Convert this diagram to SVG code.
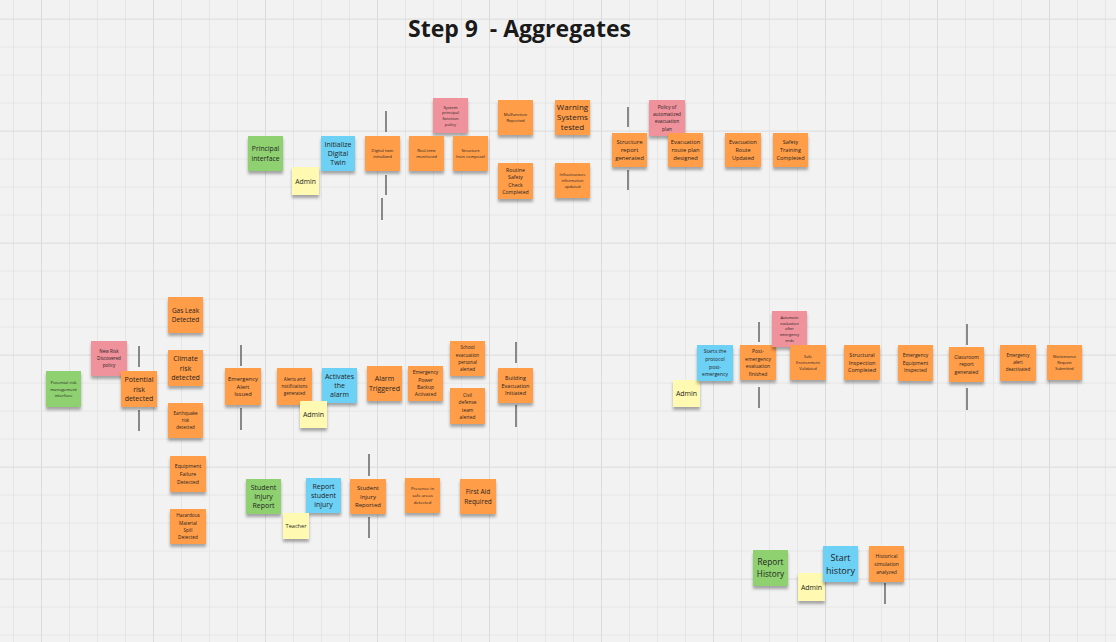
<svg xmlns="http://www.w3.org/2000/svg" width="1116" height="642" viewBox="0 0 1116 642">
<defs>
<pattern id="grid" x="41" y="18.6" width="112" height="112" patternUnits="userSpaceOnUse">
<path d="M28.5 0V112M56.5 0V112M84.5 0V112M0 28.5H112M0 56.5H112M0 84.5H112" stroke="#e6e6e6" stroke-width="1" fill="none"/>
<path d="M0.5 0V112M0 0.5H112" stroke="#dbdbdb" stroke-width="1" fill="none"/>
</pattern>
<filter id="sh" x="-20%" y="-20%" width="140%" height="150%">
<feDropShadow dx="0" dy="3" stdDeviation="1.4" flood-color="#000" flood-opacity="0.32"/>
</filter>
</defs>
<style>
.s{filter:url(#sh)}
.o{fill:#ff9d48}
.g{fill:#8fd16f}
.b{fill:#6dd0f5}
.p{fill:#f0929c}
.y{fill:#fff9b1}
.t{font-family:"Open Sans","Noto Sans","Liberation Sans",sans-serif;text-anchor:middle;fill:#1f1f1f}
.title{font-family:"Open Sans","Noto Sans","Liberation Sans",sans-serif;font-weight:700;font-size:23px;fill:#1a1a1a;white-space:pre}
.div{stroke:#666;stroke-width:1.5;fill:none}
</style>
<rect width="1116" height="642" fill="#f2f2f2"/>
<rect width="1116" height="642" fill="url(#grid)"/>
<text class="title" x="408" y="36.5" xml:space="preserve">Step 9  - Aggregates</text>

<g id="connectors">
<path class="div" d="M386 111V132M386 175V195M382 198V220"/>
<path class="div" d="M628 107V127M628 170V190"/>
<path class="div" d="M139 346V367M139 410V431"/>
<path class="div" d="M241 345V366M241 408V430"/>
<path class="div" d="M516 342V363M516 405V427"/>
<path class="div" d="M369 454V476M369 517V538"/>
<path class="div" d="M759 322V342M759 387V408"/>
<path class="div" d="M967 324V345M967 388V410"/>
<path class="div" d="M885 583V604"/>
</g>

<g id="n-principal-interface"><rect class="s g" x="248" y="136" width="35" height="35"/><text class="t" x="265.5" y="151.3" font-size="6.8"><tspan x="265.5">Principal</tspan><tspan x="265.5" dy="9.2">interface</tspan></text></g>
<g id="n-admin-1"><rect class="s y" x="292" y="167" width="27" height="28"/><text class="t" x="305.5" y="183.5" font-size="6.8">Admin</text></g>
<g id="n-initialize-digital-twin"><rect class="s b" x="321" y="136" width="34" height="35"/><text class="t" x="338" y="146.6" font-size="7"><tspan x="338">Initialize</tspan><tspan x="338" dy="9.4">Digital</tspan><tspan x="338" dy="9.4">Twin</tspan></text></g>
<g id="n-digital-twin-initialized"><rect class="s o" x="365" y="136" width="35" height="35"/><text class="t" x="382.5" y="152.2" font-size="4.2"><tspan x="382.5">Digital twin</tspan><tspan x="382.5" dy="5.7">initialized</tspan></text></g>
<g id="n-system-principal-function-policy"><rect class="s p" x="433" y="98" width="35" height="35"/><text class="t" x="450.5" y="108.5" font-size="4.2"><tspan x="450.5">System</tspan><tspan x="450.5" dy="5.7">principal</tspan><tspan x="450.5" dy="5.7">function</tspan><tspan x="450.5" dy="5.7">policy</tspan></text></g>
<g id="n-realtime-monitored"><rect class="s o" x="409" y="136" width="35" height="35"/><text class="t" x="426.5" y="152.2" font-size="4.2"><tspan x="426.5">Real-time</tspan><tspan x="426.5" dy="5.7">monitored</tspan></text></g>
<g id="n-structure-non-compose"><rect class="s o" x="453" y="136" width="35" height="35"/><text class="t" x="470.5" y="152.2" font-size="4.2"><tspan x="470.5">Structure</tspan><tspan x="470.5" dy="5.7">(non compose)</tspan></text></g>
<g id="n-malfunction-reported"><rect class="s o" x="498" y="100" width="35" height="35"/><text class="t" x="515.5" y="116.2" font-size="4.2"><tspan x="515.5">Malfunction</tspan><tspan x="515.5" dy="5.7">Reported</tspan></text></g>
<g id="n-warning-systems-tested"><rect class="s o" x="555" y="100" width="35" height="35"/><text class="t" x="572.5" y="110.4" font-size="8"><tspan x="572.5">Warning</tspan><tspan x="572.5" dy="10">Systems</tspan><tspan x="572.5" dy="10">tested</tspan></text></g>
<g id="n-routine-safety-check"><rect class="s o" x="498" y="163" width="35" height="36"/><text class="t" x="515.5" y="172.1" font-size="5.2"><tspan x="515.5">Routine</tspan><tspan x="515.5" dy="7.2">Safety</tspan><tspan x="515.5" dy="7.2">Check</tspan><tspan x="515.5" dy="7.2">Completed</tspan></text></g>
<g id="n-infrastructure-info-updated"><rect class="s o" x="555" y="163" width="35" height="35"/><text class="t" x="572.5" y="176.3" font-size="4"><tspan x="572.5">Infrastructure</tspan><tspan x="572.5" dy="5.6">information</tspan><tspan x="572.5" dy="5.6">updated</tspan></text></g>
<g id="n-structure-report-generated"><rect class="s o" x="612" y="133" width="35" height="34"/><text class="t" x="629.5" y="144" font-size="6"><tspan x="629.5">Structure</tspan><tspan x="629.5" dy="8.2">report</tspan><tspan x="629.5" dy="8.2">generated</tspan></text></g>
<g id="n-policy-evacuation-plan"><rect class="s p" x="649" y="100" width="36" height="36"/><text class="t" x="667" y="108.9" font-size="4.8"><tspan x="667">Policy of</tspan><tspan x="667" dy="7.2">automatized</tspan><tspan x="667" dy="7.2">evacuation</tspan><tspan x="667" dy="7.2">plan</tspan></text></g>
<g id="n-evacuation-route-plan-designed"><rect class="s o" x="668" y="133" width="35" height="34"/><text class="t" x="685.5" y="144.1" font-size="5.8"><tspan x="685.5">Evacuation</tspan><tspan x="685.5" dy="8">route plan</tspan><tspan x="685.5" dy="8">designed</tspan></text></g>
<g id="n-evacuation-route-updated"><rect class="s o" x="725" y="133" width="36" height="34"/><text class="t" x="743" y="144" font-size="5.5"><tspan x="743">Evacuation</tspan><tspan x="743" dy="8">Route</tspan><tspan x="743" dy="8">Updated</tspan></text></g>
<g id="n-safety-training-completed"><rect class="s o" x="773" y="133" width="35" height="34"/><text class="t" x="790.5" y="144" font-size="5.5"><tspan x="790.5">Safety</tspan><tspan x="790.5" dy="8">Training</tspan><tspan x="790.5" dy="8">Completed</tspan></text></g>

<g id="n-potential-risk-management-interface"><rect class="s g" x="46" y="371" width="35" height="36"/><text class="t" x="63.5" y="383.9" font-size="4.3"><tspan x="63.5">Potential risk</tspan><tspan x="63.5" dy="6.7">management</tspan><tspan x="63.5" dy="6.7">interface</tspan></text></g>
<g id="n-new-risk-discovered-policy"><rect class="s p" x="91" y="341" width="36" height="35"/><text class="t" x="109" y="352.9" font-size="4.6"><tspan x="109">New Risk</tspan><tspan x="109" dy="7.2">Discovered</tspan><tspan x="109" dy="7.2">policy</tspan></text></g>
<g id="n-potential-risk-detected"><rect class="s o" x="121" y="371" width="36" height="36"/><text class="t" x="139" y="382.3" font-size="7"><tspan x="139">Potential</tspan><tspan x="139" dy="9.2">risk</tspan><tspan x="139" dy="9.2">detected</tspan></text></g>
<g id="n-gas-leak-detected"><rect class="s o" x="168" y="297" width="35" height="36"/><text class="t" x="185.5" y="312.7" font-size="6.5"><tspan x="185.5">Gas Leak</tspan><tspan x="185.5" dy="9.3">Detected</tspan></text></g>
<g id="n-climate-risk-detected"><rect class="s o" x="168" y="350" width="35" height="36"/><text class="t" x="185.5" y="361.3" font-size="7"><tspan x="185.5">Climate</tspan><tspan x="185.5" dy="9.2">risk</tspan><tspan x="185.5" dy="9.2">detected</tspan></text></g>
<g id="n-earthquake-risk-detected"><rect class="s o" x="168" y="403" width="35" height="35"/><text class="t" x="185.5" y="414.8" font-size="4.5"><tspan x="185.5">Earthquake</tspan><tspan x="185.5" dy="7.3">risk</tspan><tspan x="185.5" dy="7.3">detected</tspan></text></g>
<g id="n-equipment-failure-detected"><rect class="s o" x="170" y="456" width="36" height="36"/><text class="t" x="188" y="468.1" font-size="5.2"><tspan x="188">Equipment</tspan><tspan x="188" dy="7.8">Failure</tspan><tspan x="188" dy="7.8">Detected</tspan></text></g>
<g id="n-hazardous-material-spill-detected"><rect class="s o" x="170" y="509" width="36" height="35"/><text class="t" x="188" y="517.1" font-size="4.7"><tspan x="188">Hazardous</tspan><tspan x="188" dy="7.4">Material</tspan><tspan x="188" dy="7.4">Spill</tspan><tspan x="188" dy="7.4">Detected</tspan></text></g>
<g id="n-emergency-alert-issued"><rect class="s o" x="225" y="368" width="36" height="37"/><text class="t" x="243" y="380.8" font-size="5.8"><tspan x="243">Emergency</tspan><tspan x="243" dy="7.8">Alert</tspan><tspan x="243" dy="7.8">Issued</tspan></text></g>
<g id="n-alerts-notifications-generated"><rect class="s o" x="277" y="368" width="35" height="37"/><text class="t" x="294.5" y="381.1" font-size="4.5"><tspan x="294.5">Alerts and</tspan><tspan x="294.5" dy="7">notifications</tspan><tspan x="294.5" dy="7">generated</tspan></text></g>
<g id="n-activates-the-alarm"><rect class="s b" x="322" y="368" width="35" height="35"/><text class="t" x="339.5" y="378.7" font-size="7"><tspan x="339.5">Activates</tspan><tspan x="339.5" dy="9.3">the</tspan><tspan x="339.5" dy="9.3">alarm</tspan></text></g>
<g id="n-admin-2"><rect class="s y" x="300" y="401" width="27" height="27"/><text class="t" x="313.5" y="417" font-size="7">Admin</text></g>
<g id="n-alarm-triggered"><rect class="s o" x="367" y="366" width="35" height="35"/><text class="t" x="384.5" y="381.4" font-size="7"><tspan x="384.5">Alarm</tspan><tspan x="384.5" dy="9.3">Triggered</tspan></text></g>
<g id="n-emergency-power-backup-activated"><rect class="s o" x="408" y="366" width="35" height="35"/><text class="t" x="425.5" y="374.2" font-size="5"><tspan x="425.5">Emergency</tspan><tspan x="425.5" dy="7.4">Power</tspan><tspan x="425.5" dy="7.4">Backup</tspan><tspan x="425.5" dy="7.4">Activated</tspan></text></g>
<g id="n-school-evacuation-personal-alerted"><rect class="s o" x="450" y="341" width="35" height="35"/><text class="t" x="467.5" y="349.2" font-size="4.6"><tspan x="467.5">School</tspan><tspan x="467.5" dy="7.3">evacuation</tspan><tspan x="467.5" dy="7.3">personal</tspan><tspan x="467.5" dy="7.3">alerted</tspan></text></g>
<g id="n-civil-defense-team-alerted"><rect class="s o" x="450" y="388" width="35" height="36"/><text class="t" x="467.5" y="396.8" font-size="4.8"><tspan x="467.5">Civil</tspan><tspan x="467.5" dy="7.4">defense</tspan><tspan x="467.5" dy="7.4">team</tspan><tspan x="467.5" dy="7.4">alerted</tspan></text></g>
<g id="n-building-evacuation-initiated"><rect class="s o" x="498" y="368" width="35" height="35"/><text class="t" x="515.5" y="379.7" font-size="5.5"><tspan x="515.5">Building</tspan><tspan x="515.5" dy="7.8">Evacuation</tspan><tspan x="515.5" dy="7.8">Initiated</tspan></text></g>

<g id="n-student-injury-report"><rect class="s g" x="246" y="479" width="35" height="35"/><text class="t" x="263.5" y="489.7" font-size="7"><tspan x="263.5">Student</tspan><tspan x="263.5" dy="9.3">Injury</tspan><tspan x="263.5" dy="9.3">Report</tspan></text></g>
<g id="n-report-student-injury"><rect class="s b" x="306" y="478" width="35" height="35"/><text class="t" x="323.5" y="488.7" font-size="7"><tspan x="323.5">Report</tspan><tspan x="323.5" dy="9.3">student</tspan><tspan x="323.5" dy="9.3">injury</tspan></text></g>
<g id="n-teacher"><rect class="s y" x="283" y="513" width="26" height="26"/><text class="t" x="296" y="528.1" font-size="5.6">Teacher</text></g>
<g id="n-student-injury-reported"><rect class="s o" x="350" y="479" width="36" height="35"/><text class="t" x="368" y="490.2" font-size="6"><tspan x="368">Student</tspan><tspan x="368" dy="8.5">Injury</tspan><tspan x="368" dy="8.5">Reported</tspan></text></g>
<g id="n-presence-safe-areas-detected"><rect class="s o" x="405" y="478" width="35" height="35"/><text class="t" x="422.5" y="490.3" font-size="4.3"><tspan x="422.5">Presence in</tspan><tspan x="422.5" dy="6.8">safe areas</tspan><tspan x="422.5" dy="6.8">detected</tspan></text></g>
<g id="n-first-aid-required"><rect class="s o" x="460" y="479" width="36" height="35"/><text class="t" x="478" y="494.2" font-size="6.5"><tspan x="478">First Aid</tspan><tspan x="478" dy="9.3">Required</tspan></text></g>

<g id="n-admin-3"><rect class="s y" x="673" y="380" width="27" height="27"/><text class="t" x="686.5" y="396" font-size="7">Admin</text></g>
<g id="n-starts-protocol-post-emergency"><rect class="s b" x="697" y="345" width="36" height="36"/><text class="t" x="715" y="353.4" font-size="5"><tspan x="715">Starts the</tspan><tspan x="715" dy="7.6">protocol</tspan><tspan x="715" dy="7.6">post-</tspan><tspan x="715" dy="7.6">emergency</tspan></text></g>
<g id="n-post-emergency-evaluation-finished"><rect class="s o" x="740" y="345" width="36" height="35"/><text class="t" x="758" y="352.9" font-size="5"><tspan x="758">Post-</tspan><tspan x="758" dy="7.6">emergency</tspan><tspan x="758" dy="7.6">evaluation</tspan><tspan x="758" dy="7.6">finished</tspan></text></g>
<g id="n-automatic-evaluation-policy"><rect class="s p" x="772" y="311" width="35" height="36"/><text class="t" x="789.5" y="318.8" font-size="3.8"><tspan x="789.5">Automatic</tspan><tspan x="789.5" dy="5.8">evaluation</tspan><tspan x="789.5" dy="5.8">after</tspan><tspan x="789.5" dy="5.8">emergency</tspan><tspan x="789.5" dy="5.8">ends</tspan></text></g>
<g id="n-safe-environment-validated"><rect class="s o" x="790" y="345" width="36" height="35"/><text class="t" x="808" y="357.7" font-size="4"><tspan x="808">Safe</tspan><tspan x="808" dy="6.3">Environment</tspan><tspan x="808" dy="6.3">Validated</tspan></text></g>
<g id="n-structural-inspection-completed"><rect class="s o" x="844" y="345" width="36" height="35"/><text class="t" x="862" y="356.8" font-size="5.5"><tspan x="862">Structural</tspan><tspan x="862" dy="7.7">Inspection</tspan><tspan x="862" dy="7.7">Completed</tspan></text></g>
<g id="n-emergency-equipment-inspected"><rect class="s o" x="898" y="345" width="35" height="36"/><text class="t" x="915.5" y="357.3" font-size="5"><tspan x="915.5">Emergency</tspan><tspan x="915.5" dy="7.5">Equipment</tspan><tspan x="915.5" dy="7.5">Inspected</tspan></text></g>
<g id="n-classroom-report-generated"><rect class="s o" x="949" y="347" width="35" height="35"/><text class="t" x="966.5" y="358.8" font-size="5"><tspan x="966.5">Classroom</tspan><tspan x="966.5" dy="7.5">report</tspan><tspan x="966.5" dy="7.5">generated</tspan></text></g>
<g id="n-emergency-alert-deactivated"><rect class="s o" x="1000" y="345" width="36" height="36"/><text class="t" x="1018" y="356.5" font-size="4.5"><tspan x="1018">Emergency</tspan><tspan x="1018" dy="7.3">alert</tspan><tspan x="1018" dy="7.3">deactivated</tspan></text></g>
<g id="n-maintenance-request-submitted"><rect class="s o" x="1047" y="345" width="35" height="35"/><text class="t" x="1064.5" y="358.1" font-size="3.8"><tspan x="1064.5">Maintenance</tspan><tspan x="1064.5" dy="5.8">Request</tspan><tspan x="1064.5" dy="5.8">Submitted</tspan></text></g>

<g id="n-report-history"><rect class="s g" x="753" y="550" width="35" height="36"/><text class="t" x="770.5" y="565.2" font-size="8.2"><tspan x="770.5">Report</tspan><tspan x="770.5" dy="11.5">History</tspan></text></g>
<g id="n-admin-4"><rect class="s y" x="798" y="573" width="27" height="28"/><text class="t" x="811.5" y="589.5" font-size="7">Admin</text></g>
<g id="n-start-history"><rect class="s b" x="823" y="546" width="35" height="36"/><text class="t" x="840.5" y="560.9" font-size="9"><tspan x="840.5">Start</tspan><tspan x="840.5" dy="12.7">history</tspan></text></g>
<g id="n-historical-simulation-analyzed"><rect class="s o" x="869" y="546" width="35" height="36"/><text class="t" x="886.5" y="558" font-size="5"><tspan x="886.5">Historical</tspan><tspan x="886.5" dy="7.8">simulation</tspan><tspan x="886.5" dy="7.8">analyzed</tspan></text></g>
</svg>
